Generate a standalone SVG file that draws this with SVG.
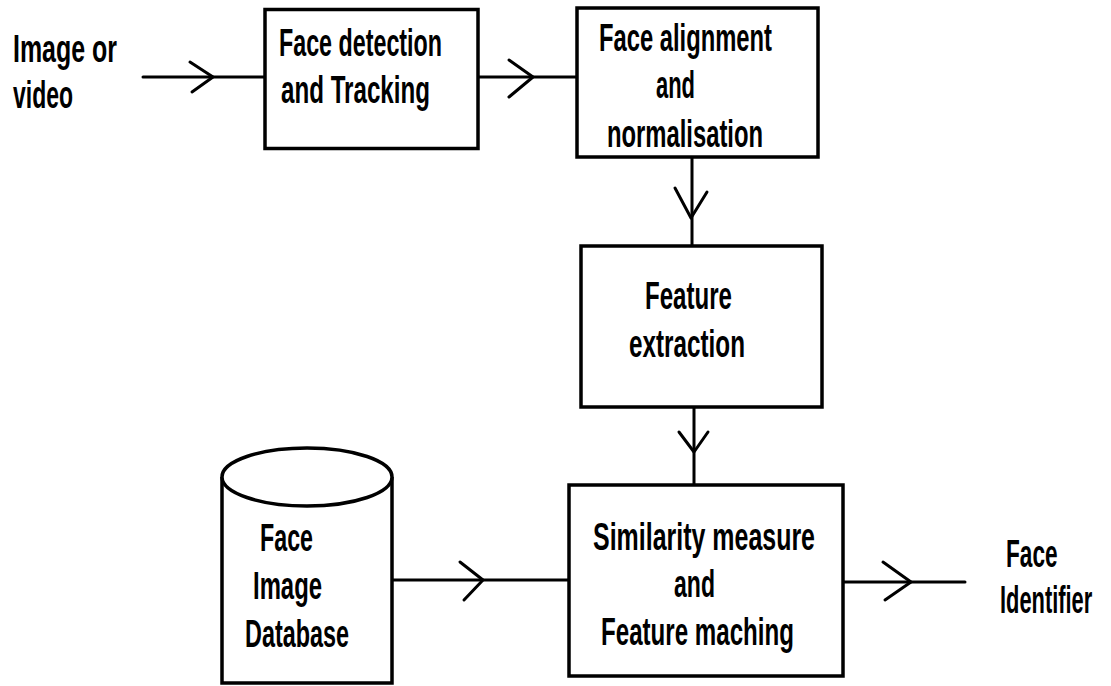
<svg xmlns="http://www.w3.org/2000/svg" width="1111" height="686" viewBox="0 0 1111 686">
<style>
.box{fill:#fff;stroke:#000;stroke-width:3.5}
.ln{fill:none;stroke:#000;stroke-width:3;stroke-linecap:round;stroke-linejoin:round}
.t{font-family:"Liberation Sans",Arial,sans-serif;font-weight:bold;font-size:39px;fill:#000}
</style>
<rect width="1111" height="686" fill="#fff"/>
<g id="connectors">
<line class="ln" x1="143" y1="77" x2="264" y2="77"/>
<polyline class="ln" points="190,62 213,77 192,92"/>
<line class="ln" x1="479" y1="77" x2="577" y2="77"/>
<polyline class="ln" points="509,60 533,77 509,97"/>
<line class="ln" x1="692" y1="158" x2="692" y2="246"/>
<polyline class="ln" points="675,188 691,218 707,192"/>
<line class="ln" x1="694" y1="407" x2="694" y2="485"/>
<polyline class="ln" points="679,432 694,452 708,432"/>
<line class="ln" x1="392" y1="580" x2="569" y2="580"/>
<polyline class="ln" points="460,562 483,580 464,600"/>
<line class="ln" x1="843" y1="582" x2="965" y2="582"/>
<polyline class="ln" points="883,562 911,582 885,600"/>
</g>
<g id="input">
<text class="t" x="13" y="62" textLength="104" lengthAdjust="spacingAndGlyphs">Image or</text>
<text class="t" x="13" y="108" textLength="60" lengthAdjust="spacingAndGlyphs">video</text>
</g>
<g id="detection">
<rect class="box" x="265" y="9.5" width="213" height="139"/>
<text class="t" x="279" y="56" textLength="163" lengthAdjust="spacingAndGlyphs">Face detection</text>
<text class="t" x="281" y="103" textLength="149" lengthAdjust="spacingAndGlyphs">and Tracking</text>
</g>
<g id="alignment">
<rect class="box" x="577" y="8" width="241" height="149"/>
<text class="t" x="599" y="51" textLength="173" lengthAdjust="spacingAndGlyphs">Face alignment</text>
<text class="t" x="656" y="98" textLength="39" lengthAdjust="spacingAndGlyphs">and</text>
<text class="t" x="607" y="147" textLength="156" lengthAdjust="spacingAndGlyphs">normalisation</text>
</g>
<g id="extraction">
<rect class="box" x="581" y="246" width="241" height="161"/>
<text class="t" x="645" y="309" textLength="87" lengthAdjust="spacingAndGlyphs">Feature</text>
<text class="t" x="629" y="357" textLength="116" lengthAdjust="spacingAndGlyphs">extraction</text>
</g>
<g id="matching">
<rect class="box" x="569" y="485" width="274" height="191"/>
<text class="t" x="593" y="550" textLength="222" lengthAdjust="spacingAndGlyphs">Similarity measure</text>
<text class="t" x="674" y="597" textLength="41" lengthAdjust="spacingAndGlyphs">and</text>
<text class="t" x="601" y="645" textLength="193" lengthAdjust="spacingAndGlyphs">Feature maching</text>
</g>
<g id="database">
<path class="box" d="M222,477 L222,683 L392,683 L392,477"/>
<ellipse class="box" cx="307" cy="477" rx="85" ry="29"/>
<text class="t" x="260" y="551" textLength="53" lengthAdjust="spacingAndGlyphs">Face</text>
<text class="t" x="253" y="599" textLength="69" lengthAdjust="spacingAndGlyphs">Image</text>
<text class="t" x="245" y="647" textLength="104" lengthAdjust="spacingAndGlyphs">Database</text>
</g>
<g id="output">
<text class="t" transform="translate(1006,567) scale(0.58,1)" x="0" y="0">Face</text>
<text class="t" transform="translate(1000,613) scale(0.56,1)" x="0" y="0">Identifier</text>
</g>
</svg>
